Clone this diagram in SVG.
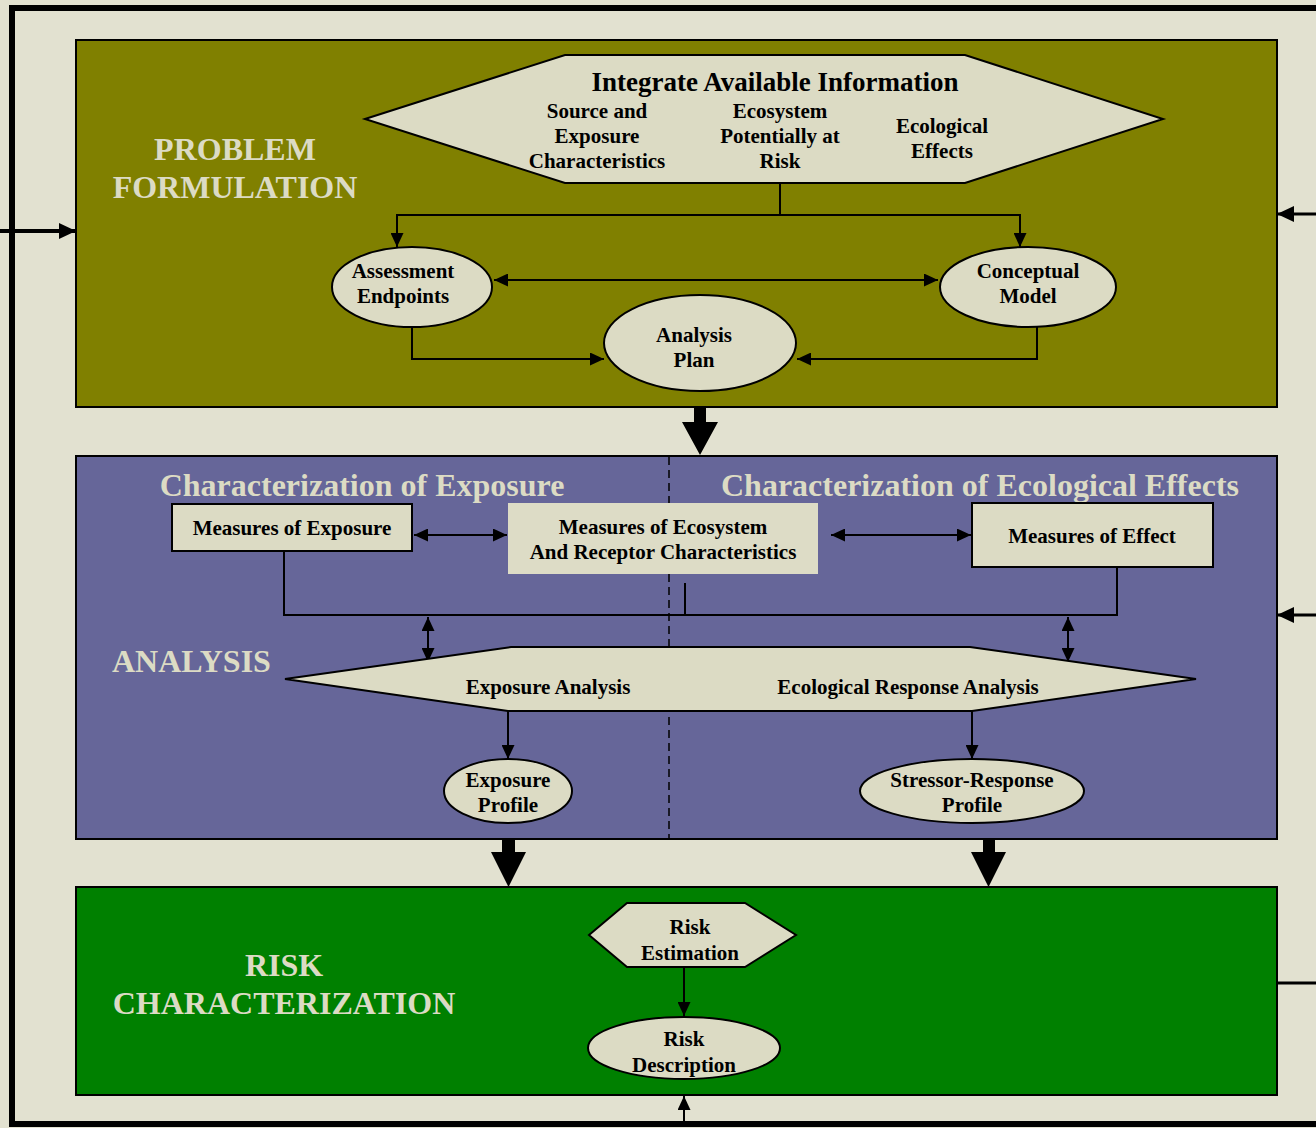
<svg xmlns="http://www.w3.org/2000/svg" width="1316" height="1128" viewBox="0 0 1316 1128">
<defs>
<marker id="ah" markerUnits="userSpaceOnUse" markerWidth="14" markerHeight="13" refX="14" refY="6.5" orient="auto-start-reverse">
<path d="M0,0 L14,6.5 L0,13 Z" fill="#000"/>
</marker>
<marker id="ahs" markerUnits="userSpaceOnUse" markerWidth="17" markerHeight="16" refX="17" refY="8" orient="auto-start-reverse">
<path d="M0,0 L17,8 L0,16 Z" fill="#000"/>
</marker>
</defs>
<style>
.node{fill:#dcdbc4;stroke:#000;stroke-width:2}
.t{font-family:"Liberation Serif","Times New Roman",serif;font-weight:bold;font-size:21px;fill:#000;text-anchor:middle}
.h{font-family:"Liberation Serif","Times New Roman",serif;font-weight:bold;font-size:32px;fill:#dcdbc4}
.c{fill:none;stroke:#000;stroke-width:2}
.ca{fill:none;stroke:#000;stroke-width:2;marker-end:url(#ah)}
.cd{fill:none;stroke:#000;stroke-width:2;marker-end:url(#ah);marker-start:url(#ah)}
.frame{fill:none;stroke:#000;stroke-width:6}
</style>
<rect width="1316" height="1128" fill="#e2e1d0"/>

<g id="stages">
<g id="problem-formulation">
<rect x="76" y="40" width="1201" height="367" fill="#808000" stroke="#000" stroke-width="2"/>
<text class="h" x="235" y="160" text-anchor="middle">PROBLEM</text>
<text class="h" x="235" y="198" text-anchor="middle">FORMULATION</text>
</g>
<g id="analysis">
<rect x="76" y="456" width="1201" height="383" fill="#666699" stroke="#000" stroke-width="2"/>
<line x1="669" y1="457" x2="669" y2="838" stroke="#000" stroke-width="1.5" stroke-dasharray="8,5"/>
<text class="h" x="112" y="672">ANALYSIS</text>
<text class="h" x="362" y="496" text-anchor="middle">Characterization of Exposure</text>
<text class="h" x="980" y="496" text-anchor="middle">Characterization of Ecological Effects</text>
</g>
<g id="risk-characterization">
<rect x="76" y="887" width="1201" height="208" fill="#008000" stroke="#000" stroke-width="2"/>
<text class="h" x="284" y="976" text-anchor="middle">RISK</text>
<text class="h" x="284" y="1014" text-anchor="middle">CHARACTERIZATION</text>
</g>
</g>

<g id="connectors">
<path class="frame" d="M1316,8 H12 V1124 H1316"/>
<line x1="0" y1="231" x2="76" y2="231" stroke="#000" stroke-width="4" marker-end="url(#ahs)"/>
<line x1="1316" y1="214" x2="1277" y2="214" stroke="#000" stroke-width="3" marker-end="url(#ahs)"/>
<line x1="1316" y1="615" x2="1277" y2="615" stroke="#000" stroke-width="3" marker-end="url(#ahs)"/>
<line x1="1277" y1="983" x2="1316" y2="983" stroke="#000" stroke-width="3"/>
<line x1="684" y1="1124" x2="684" y2="1096" stroke="#000" stroke-width="2" marker-end="url(#ah)"/>

<path class="c" d="M780,183 V215"/>
<path class="ca" d="M780,215 H397 V247"/>
<path class="ca" d="M780,215 H1020 V247"/>
<path class="cd" d="M494,280 H938"/>
<path class="ca" d="M412,327 V359 H604"/>
<path class="ca" d="M1037,327 V359 H797"/>

<polygon points="694,407 706,407 706,422 718,422 700,455 682,422 694,422" fill="#000"/>

<path class="cd" d="M414,535 H507"/>
<path class="cd" d="M831,535 H971"/>
<path class="c" d="M284,551 V615 H1117 V567"/>
<path class="c" d="M685,583 V615"/>
<path class="cd" d="M428,617 V662"/>
<path class="cd" d="M1068,617 V662"/>
<path class="ca" d="M508,711 V759"/>
<path class="ca" d="M972,711 V759"/>

<polygon points="502,840 515,840 515,852 526,852 508.5,887 491,852 502,852" fill="#000"/>
<polygon points="983,840 995,840 995,852 1006,852 988.5,887 971,852 983,852" fill="#000"/>

<path class="ca" d="M684,967 V1016"/>
</g>

<g id="integrate-info">
<polygon class="node" points="365,119 565,55 965,55 1163,119 965,183 565,183"/>
<text class="t" x="775" y="91" style="font-size:27px">Integrate Available Information</text>
<text class="t" x="597" y="118">Source and</text>
<text class="t" x="597" y="143">Exposure</text>
<text class="t" x="597" y="168">Characteristics</text>
<text class="t" x="780" y="118">Ecosystem</text>
<text class="t" x="780" y="143">Potentially at</text>
<text class="t" x="780" y="168">Risk</text>
<text class="t" x="942" y="133">Ecological</text>
<text class="t" x="942" y="158">Effects</text>
</g>
<g id="assessment-endpoints">
<ellipse class="node" cx="412" cy="287" rx="80" ry="40"/>
<text class="t" x="403" y="278">Assessment</text>
<text class="t" x="403" y="303">Endpoints</text>
</g>
<g id="conceptual-model">
<ellipse class="node" cx="1028" cy="287" rx="88" ry="40"/>
<text class="t" x="1028" y="278">Conceptual</text>
<text class="t" x="1028" y="303">Model</text>
</g>
<g id="analysis-plan">
<ellipse class="node" cx="700" cy="343" rx="96" ry="48"/>
<text class="t" x="694" y="342">Analysis</text>
<text class="t" x="694" y="367">Plan</text>
</g>
<g id="measures-exposure">
<rect class="node" x="172" y="504" width="240" height="47"/>
<text class="t" x="292" y="535">Measures of Exposure</text>
</g>
<g id="measures-ecosystem">
<rect x="508" y="503" width="310" height="71" fill="#dddcc6"/>
<text class="t" x="663" y="534">Measures of Ecosystem</text>
<text class="t" x="663" y="559">And Receptor Characteristics</text>
</g>
<g id="measures-effect">
<rect class="node" x="972" y="503" width="241" height="64"/>
<text class="t" x="1092" y="543">Measures of Effect</text>
</g>
<g id="analysis-hex">
<polygon class="node" points="285,679 511,647 970,647 1196,679 972,711 508,711"/>
<text class="t" x="548" y="694">Exposure Analysis</text>
<text class="t" x="908" y="694">Ecological Response Analysis</text>
</g>
<g id="exposure-profile">
<ellipse class="node" cx="508" cy="791" rx="64" ry="32"/>
<text class="t" x="508" y="787">Exposure</text>
<text class="t" x="508" y="812">Profile</text>
</g>
<g id="stressor-response-profile">
<ellipse class="node" cx="972" cy="791" rx="112" ry="32"/>
<text class="t" x="972" y="787">Stressor-Response</text>
<text class="t" x="972" y="812">Profile</text>
</g>
<g id="risk-estimation">
<polygon class="node" points="589,935 627,903 745,903 796,935 745,967 627,967"/>
<text class="t" x="690" y="934">Risk</text>
<text class="t" x="690" y="960">Estimation</text>
</g>
<g id="risk-description">
<ellipse class="node" cx="684" cy="1048" rx="96" ry="31"/>
<text class="t" x="684" y="1046">Risk</text>
<text class="t" x="684" y="1072">Description</text>
</g>
</svg>
